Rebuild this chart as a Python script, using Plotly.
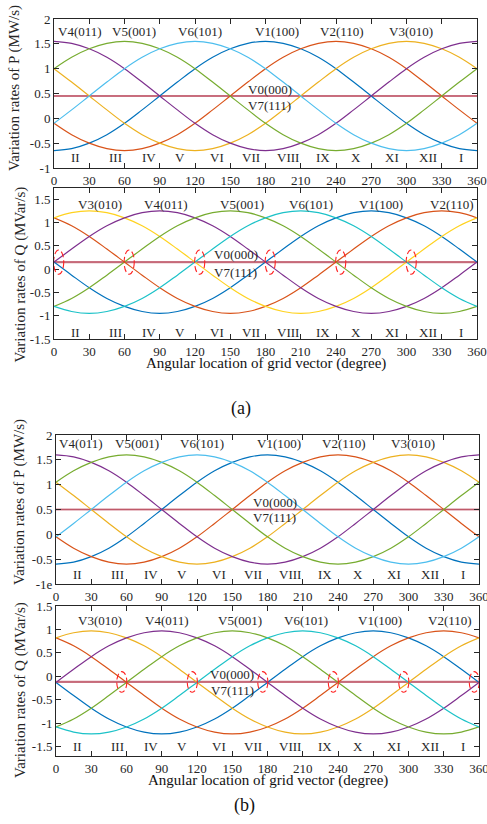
import plotly.graph_objects as go

W, H = 487, 824

# ---------------- data ----------------
angles = list(range(0, 361, 15))          # sample angles (degree)
# waveform of one vector vs. (angle - peak angle), sampled every 15 degree
prof_aP = [1.55, 1.51, 1.40, 1.23, 1.00, 0.73, 0.45, 0.17, -0.10, -0.33, -0.50, -0.61,
           -0.65, -0.61, -0.50, -0.33, -0.10, 0.17, 0.45, 0.73, 1.00, 1.23, 1.40, 1.51]
prof_aQ = [1.25, 1.21, 1.10, 0.93, 0.70, 0.43, 0.15, -0.13, -0.40, -0.63, -0.80, -0.91,
           -0.95, -0.91, -0.80, -0.63, -0.40, -0.13, 0.15, 0.43, 0.70, 0.93, 1.10, 1.21]
prof_bP = [1.60, 1.56, 1.45, 1.28, 1.05, 0.78, 0.50, 0.22, -0.05, -0.28, -0.45, -0.56,
           -0.60, -0.56, -0.45, -0.28, -0.05, 0.22, 0.50, 0.78, 1.05, 1.28, 1.45, 1.56]
prof_bQ = [0.97, 0.93, 0.82, 0.65, 0.42, 0.15, -0.13, -0.41, -0.68, -0.91, -1.08, -1.19,
           -1.23, -1.19, -1.08, -0.91, -0.68, -0.41, -0.13, 0.15, 0.42, 0.65, 0.82, 0.93]

vectors = ["V1(100)", "V2(110)", "V3(010)", "V4(011)", "V5(001)", "V6(101)"]
peak_P = [180, 240, 300, 0, 60, 120]
peak_Q = [270, 330, 30, 90, 150, 210]

zero_aP, zero_aQ, zero_bP, zero_bQ = 0.45, 0.15, 0.50, -0.12

colors_P = ["#0072BD", "#D95319", "#EDB120", "#7E2F8E", "#77AC30", "#4DBEEE"]
colors_aQ = ["#0072BD", "#D95319", "#FFD21F", "#7E2F8E", "#77AC30", "#1CC2C8"]
colors_bQ = ["#0072BD", "#D95319", "#EDB120", "#7E2F8E", "#77AC30", "#1CC2C8"]

# label positions (angle, value)
lab_aP_x = [190, 245, 304, 22, 68.5, 124]
lab_aP_y = 1.74
lab_bP_x = [190, 245, 304, 21.4, 69, 124]
lab_bP_y = 1.82
lab_aQ_x = [278.7, 339, 39, 95.7, 159.6, 218.7]
lab_aQ_y = 1.39
lab_bQ_x = [275.6, 335, 37.3, 94.6, 157, 213]
lab_bQ_y = 1.19

zlab = ["V0(000)", "V7(111)"]
zlab_aP = (183.5, [0.59, 0.25])
zlab_aQ = (154.6, [0.32, -0.08])
zlab_bP = (186, [0.65, 0.33])
zlab_bQ = (150, [0.03, -0.31])

sectors = ["II", "III", "IV", "V", "VI", "VII", "VIII", "IX", "X", "XI", "XII", "I"]
sector_x = [18, 52, 81, 107, 139, 168, 199, 229, 257, 288, 318, 346]
sector_y = {"aP": -0.78, "aQ": -1.35, "bP": -0.80, "bQ": -1.50}

ell_a_x = [4, 64, 124, 184, 244, 304]
ell_b_x = [56, 116, 176, 236, 296, 356]
ell_hw = 4.3
ell_hh_a, ell_hh_b = 0.26, 0.22

xticks = list(range(0, 361, 30))

# ---------------- layout geometry (px) ----------------
panels = {
    # name: (x_left, x_right, y_top, y_bottom, yrange)
    "aP": (54, 477, 19, 168, [-1, 2]),
    "aQ": (54, 477, 188, 339, [-1.5, 1.74]),
    "bP": (56, 479, 435, 584, [-1, 2]),
    "bQ": (56, 479, 606, 756, [-1.7, 1.5]),
}
axis_ids = {"aP": "", "aQ": "2", "bP": "3", "bQ": "4"}

FONT = "Liberation Serif, Times New Roman, serif"
INK = "#262626"

fig = go.Figure()


def wave(profile, peak):
    out = []
    for a in angles:
        idx = ((a - peak) // 15) % 24
        out.append(profile[idx])
    return out


def add_panel(key, profile, peaks, colors, zero):
    aid = axis_ids[key]
    xr, yr = "x" + aid, "y" + aid
    # zero-vector line (V0 / V7), pinkish with darker core
    fig.add_trace(go.Scatter(x=[angles[0], angles[-1]], y=[zero, zero], mode="lines",
                             line=dict(color="rgba(205,120,135,0.9)", width=2.2),
                             xaxis=xr, yaxis=yr, showlegend=False, hoverinfo="skip"))
    fig.add_trace(go.Scatter(x=[angles[0], angles[-1]], y=[zero, zero], mode="lines",
                             line=dict(color="rgba(170,40,60,0.8)", width=0.6),
                             xaxis=xr, yaxis=yr, showlegend=False, hoverinfo="skip"))
    for name, pk, c in zip(vectors, peaks, colors):
        fig.add_trace(go.Scatter(x=angles, y=wave(profile, pk), mode="lines", name=name,
                                 line=dict(color=c, width=1.2, shape="spline", smoothing=1.0),
                                 xaxis=xr, yaxis=yr, showlegend=False))


add_panel("aP", prof_aP, peak_P, colors_P, zero_aP)
add_panel("aQ", prof_aQ, peak_Q, colors_aQ, zero_aQ)
add_panel("bP", prof_bP, peak_P, colors_P, zero_bP)
add_panel("bQ", prof_bQ, peak_Q, colors_bQ, zero_bQ)

annotations = []


def txt(key, x, y, s, size=13):
    aid = axis_ids[key]
    annotations.append(dict(x=x, y=y, xref="x" + aid, yref="y" + aid, text=s,
                            showarrow=False, font=dict(family=FONT, size=size, color=INK),
                            xanchor="center", yanchor="middle"))


for key, lx, ly in [("aP", lab_aP_x, lab_aP_y), ("bP", lab_bP_x, lab_bP_y),
                    ("aQ", lab_aQ_x, lab_aQ_y), ("bQ", lab_bQ_x, lab_bQ_y)]:
    for name, x in zip(vectors, lx):
        txt(key, x, ly, name)
for key, (zx, zys) in [("aP", zlab_aP), ("aQ", zlab_aQ), ("bP", zlab_bP), ("bQ", zlab_bQ)]:
    for s, zy in zip(zlab, zys):
        txt(key, zx, zy, s)
for key in ["aP", "aQ", "bP", "bQ"]:
    for s, x in zip(sectors, sector_x):
        txt(key, x, sector_y[key], s)

# y-axis titles and x-axis titles
ytitles = [("Variation rates of P (MW/s)", 15, 88), ("Variation rates of Q (MVar/s)", 19.5, 275),
           ("Variation rates of P (MW/s)", 20, 502), ("Variation rates of Q (MVar/s)", 20, 690)]
for s, px, py in ytitles:
    annotations.append(dict(x=px / W, y=1 - py / H, xref="paper", yref="paper", text=s,
                            textangle=-90, showarrow=False,
                            font=dict(family=FONT, size=15, color=INK),
                            xanchor="center", yanchor="middle"))
for s, px, py, sz in [("Angular location of grid vector (degree)", 265.5, 363, 15),
                      ("Angular location of grid vector (degree)", 267.5, 780, 15),
                      ("(a)", 241, 408, 18), ("(b)", 245, 805, 18)]:
    annotations.append(dict(x=px / W, y=1 - py / H, xref="paper", yref="paper", text=s,
                            showarrow=False, font=dict(family=FONT, size=sz, color="#111"),
                            xanchor="center", yanchor="middle"))

# red dashed ellipses marking the crossings on the zero-vector line
shapes = []
for key, cx_list, cy, hh in [("aQ", ell_a_x, zero_aQ, ell_hh_a), ("bQ", ell_b_x, zero_bQ, ell_hh_b)]:
    aid = axis_ids[key]
    for cx in cx_list:
        shapes.append(dict(type="circle", xref="x" + aid, yref="y" + aid,
                           x0=cx - ell_hw, x1=cx + ell_hw, y0=cy - hh, y1=cy + hh,
                           line=dict(color="#FF2020", width=1.1, dash="6px,3px")))

layout = dict(width=W, height=H, margin=dict(l=0, r=0, t=0, b=0),
              paper_bgcolor="white", plot_bgcolor="white",
              annotations=annotations, shapes=shapes, showlegend=False)

for key, (xl, xrgt, yt, yb, yrange) in panels.items():
    aid = axis_ids[key]
    ax_common = dict(showline=True, linecolor=INK, linewidth=1, mirror="ticks",
                     ticks="inside", ticklen=5, tickcolor=INK, showgrid=False,
                     zeroline=False, automargin=False, ticklabeloverflow="allow",
                     tickfont=dict(family=FONT, size=13, color=INK))
    layout["xaxis" + aid] = dict(ax_common, domain=[xl / W, xrgt / W], range=[0, 360],
                                 tickvals=xticks, ticktext=[str(v) for v in xticks],
                                 anchor="y" + aid)
    ylo, yhi = yrange
    yt_vals = [v / 2 for v in range(int(round(ylo * 2 + 0.49)), int(yhi * 2) + 1)]
    yt_vals = [v for v in yt_vals if ylo - 1e-9 <= v <= yhi + 1e-9]
    ytext = []
    for v in yt_vals:
        s = ("%g" % v).replace("\u2212", "-")
        if key == "bP" and v == -1:
            s = "-1e"
        ytext.append(s)
    layout["yaxis" + aid] = dict(ax_common, domain=[1 - yb / H, 1 - yt / H], range=yrange,
                                 tickvals=yt_vals, ticktext=ytext, anchor="x" + aid)

fig.update_layout(**layout)
fig.write_html("out.html", config={"displayModeBar": False},
               post_script="document.body.style.margin='0';document.body.style.padding='0';"
                           "document.documentElement.style.overflow='hidden';")
